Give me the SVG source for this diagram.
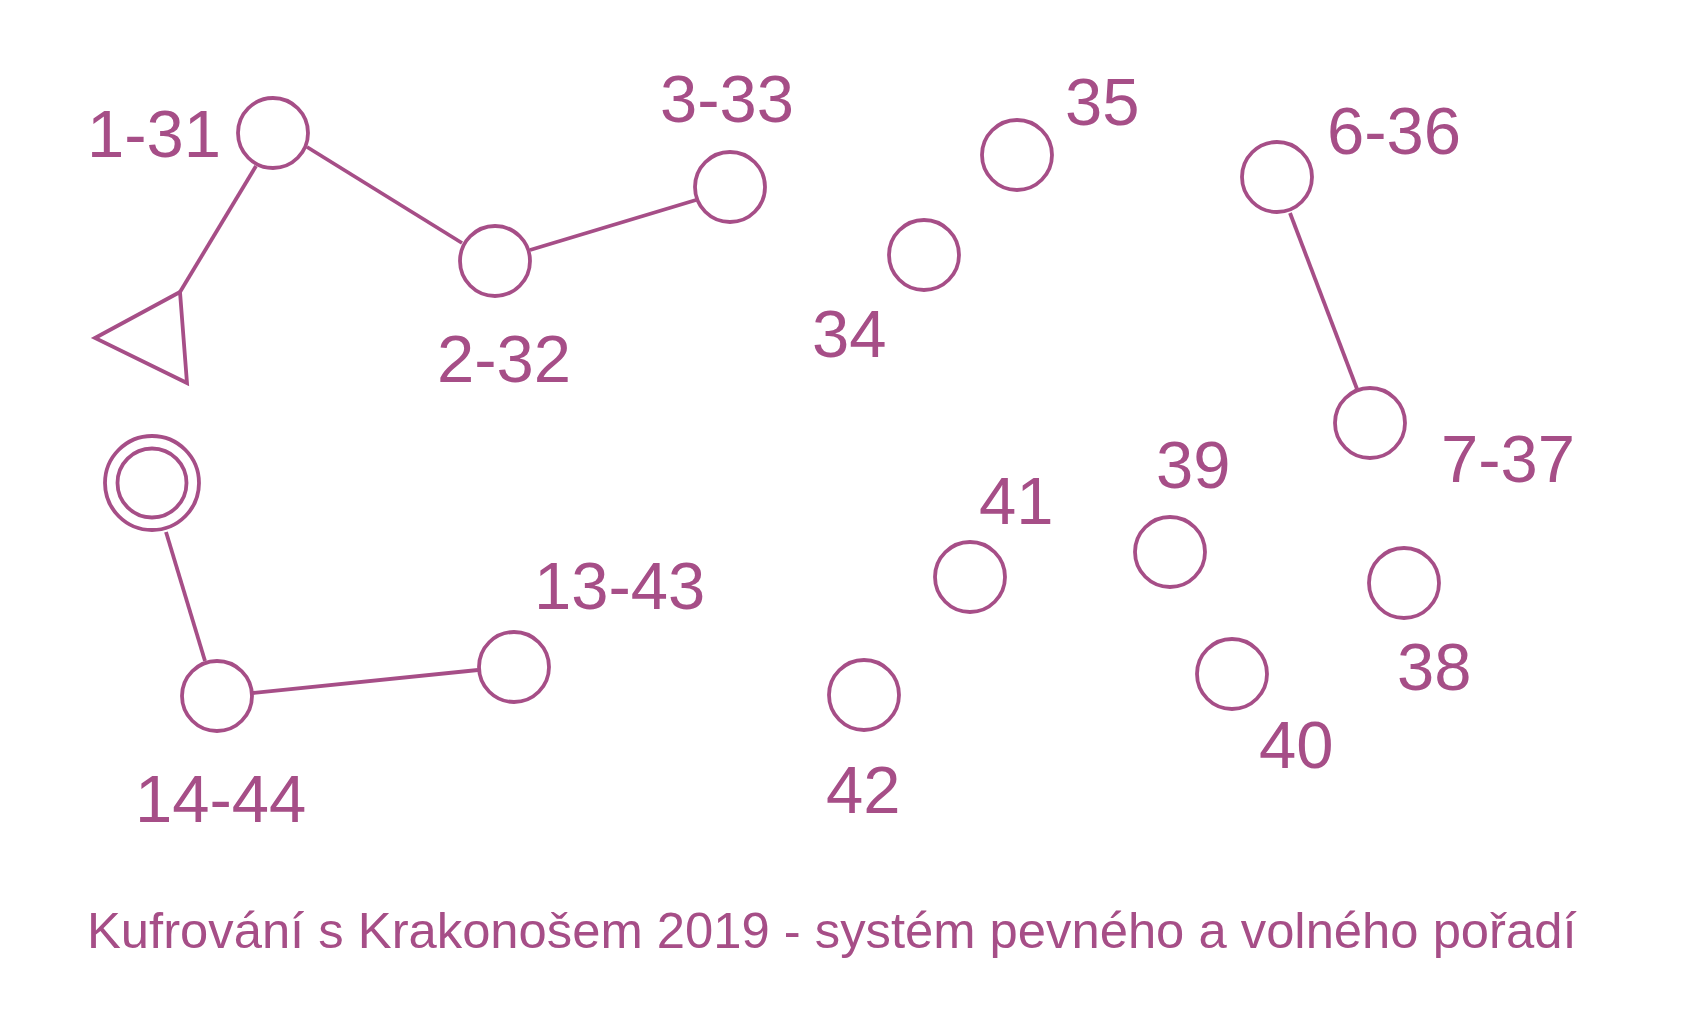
<svg xmlns="http://www.w3.org/2000/svg" width="1698" height="1026" viewBox="0 0 1698 1026">
<style>
.n{fill:#fff;stroke:#a64e87;stroke-width:3.8}
.e{stroke:#a64e87;stroke-width:3.8;fill:none}
.l{font-family:"Liberation Sans",Arial,sans-serif;font-size:67px;fill:#a64e87}
.c{font-family:"Liberation Sans",Arial,sans-serif;font-size:50.75px;fill:#a64e87}
</style>
<rect width="1698" height="1026" fill="#fff"/>
<g id="connectors">
<line class="e" x1="256" y1="166" x2="180" y2="292"/>
<line class="e" x1="307" y1="147" x2="462" y2="243"/>
<line class="e" x1="530" y1="250" x2="696" y2="200"/>
<line class="e" x1="166" y1="532" x2="205" y2="661"/>
<line class="e" x1="253" y1="693" x2="478" y2="670"/>
<line class="e" x1="1290" y1="213" x2="1357" y2="389"/>
</g>
<g id="start"><polygon class="n" points="180,292 95,338 187,383"/></g>
<g id="finish"><circle class="n" cx="152" cy="483" r="47"/><circle class="n" cx="152" cy="483" r="34.5"/></g>
<g id="n1-31"><circle class="n" cx="273" cy="133" r="35"/><text class="l" x="87" y="157">1-31</text></g>
<g id="n2-32"><circle class="n" cx="495" cy="261" r="35"/><text class="l" x="437" y="382">2-32</text></g>
<g id="n3-33"><circle class="n" cx="730" cy="187" r="35"/><text class="l" x="660" y="122">3-33</text></g>
<g id="n34"><circle class="n" cx="924" cy="255" r="35"/><text class="l" x="812" y="357">34</text></g>
<g id="n35"><circle class="n" cx="1017" cy="155" r="35"/><text class="l" x="1065" y="125">35</text></g>
<g id="n6-36"><circle class="n" cx="1277" cy="177" r="35"/><text class="l" x="1327" y="154">6-36</text></g>
<g id="n7-37"><circle class="n" cx="1370" cy="423" r="35"/><text class="l" x="1441" y="482">7-37</text></g>
<g id="n38"><circle class="n" cx="1404" cy="583" r="35"/><text class="l" x="1397" y="690">38</text></g>
<g id="n39"><circle class="n" cx="1170" cy="552" r="35"/><text class="l" x="1156" y="488">39</text></g>
<g id="n40"><circle class="n" cx="1232" cy="674" r="35"/><text class="l" x="1259" y="768">40</text></g>
<g id="n41"><circle class="n" cx="970" cy="577" r="35"/><text class="l" x="979" y="524">41</text></g>
<g id="n42"><circle class="n" cx="864" cy="695" r="35"/><text class="l" x="826" y="813">42</text></g>
<g id="n13-43"><circle class="n" cx="514" cy="667" r="35"/><text class="l" x="534" y="609">13-43</text></g>
<g id="n14-44"><circle class="n" cx="217" cy="696" r="35"/><text class="l" x="135" y="822">14-44</text></g>
<text class="c" x="87" y="948">Kufrování s Krakonošem 2019 - systém pevného a volného pořadí</text>
</svg>
